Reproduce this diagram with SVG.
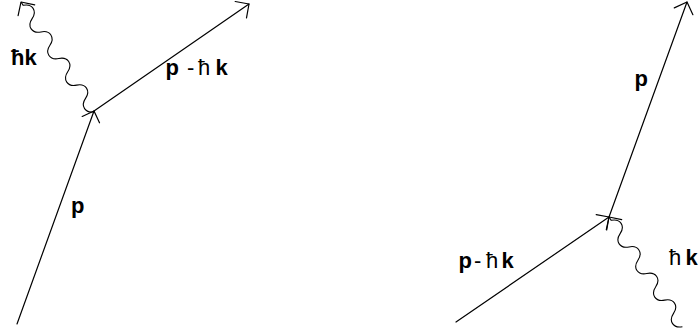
<svg xmlns="http://www.w3.org/2000/svg" width="700" height="335" viewBox="0 0 700 335">
<defs>
<style>
.ln{fill:none;stroke:#000;stroke-width:1.2;stroke-linecap:round;stroke-linejoin:round}
.wv{fill:none;stroke:#000;stroke-width:1.1}
.lb{font-family:"Liberation Sans",Arial,sans-serif;font-size:22px;fill:#000}
.b{font-weight:bold}
</style>
<path id="wave" d="M0,0 l4,0 c3.5,-8.7 12.5,-8.7 16,0 c3.5,8.7 12.5,8.7 16,0 c3.5,-8.7 12.5,-8.7 16,0 c3.5,8.7 12.5,8.7 16,0 c3.5,-8.7 12.5,-8.7 16,0 c3.5,8.7 12.5,8.7 16,0 c3.5,-8.7 12.5,-8.7 16,0 c3.5,8.7 12.5,8.7 16,0"/>
</defs>
<rect width="700" height="335" fill="#fff"/>
<g id="connectors">
  <!-- left diagram -->
  <line class="ln" x1="17" y1="324" x2="94" y2="111"/>
  <polyline class="ln" points="82.2,116.5 94,111 99.5,122.8"/>
  <line class="ln" x1="94" y1="111" x2="249" y2="4"/>
  <polyline class="ln" points="235.2,1.5 249,4 246.5,17.8"/>
  <use href="#wave" class="wv" transform="translate(21,2) rotate(56.2)"/>
  <polyline class="ln" points="18.1,15.7 21,2 34.7,4.9"/>
  <!-- right diagram -->
  <line class="ln" x1="456" y1="322" x2="609" y2="217"/>
  <polyline class="ln" points="596.2,214.7 609,217 606.7,229.8"/>
  <polyline class="ln" points="621.7,219.7 609,217 606.3,229.7"/>
  <line class="ln" x1="609" y1="217" x2="687" y2="2"/>
  <polyline class="ln" points="674.3,7.9 687,2 692.9,14.7"/>
  <use href="#wave" class="wv" transform="translate(609,217) rotate(56.2)"/>
</g>
<g id="labels-left">
  <text class="lb b" x="11" y="65">ħk</text>
  <text class="lb b" x="71" y="213">p</text>
  <text class="lb" y="75"><tspan class="b" x="165.5">p</tspan><tspan x="187">-</tspan><tspan x="198">ħ</tspan><tspan class="b" x="215.5">k</tspan></text>
</g>
<g id="labels-right">
  <text class="lb b" x="634.5" y="86">p</text>
  <text class="lb" y="268"><tspan class="b" x="458.5">p</tspan><tspan x="474">-</tspan><tspan x="486">ħ</tspan><tspan class="b" x="501.5">k</tspan></text>
  <text class="lb" y="265"><tspan x="669">ħ</tspan><tspan class="b" x="685.5">k</tspan></text>
</g>
</svg>
